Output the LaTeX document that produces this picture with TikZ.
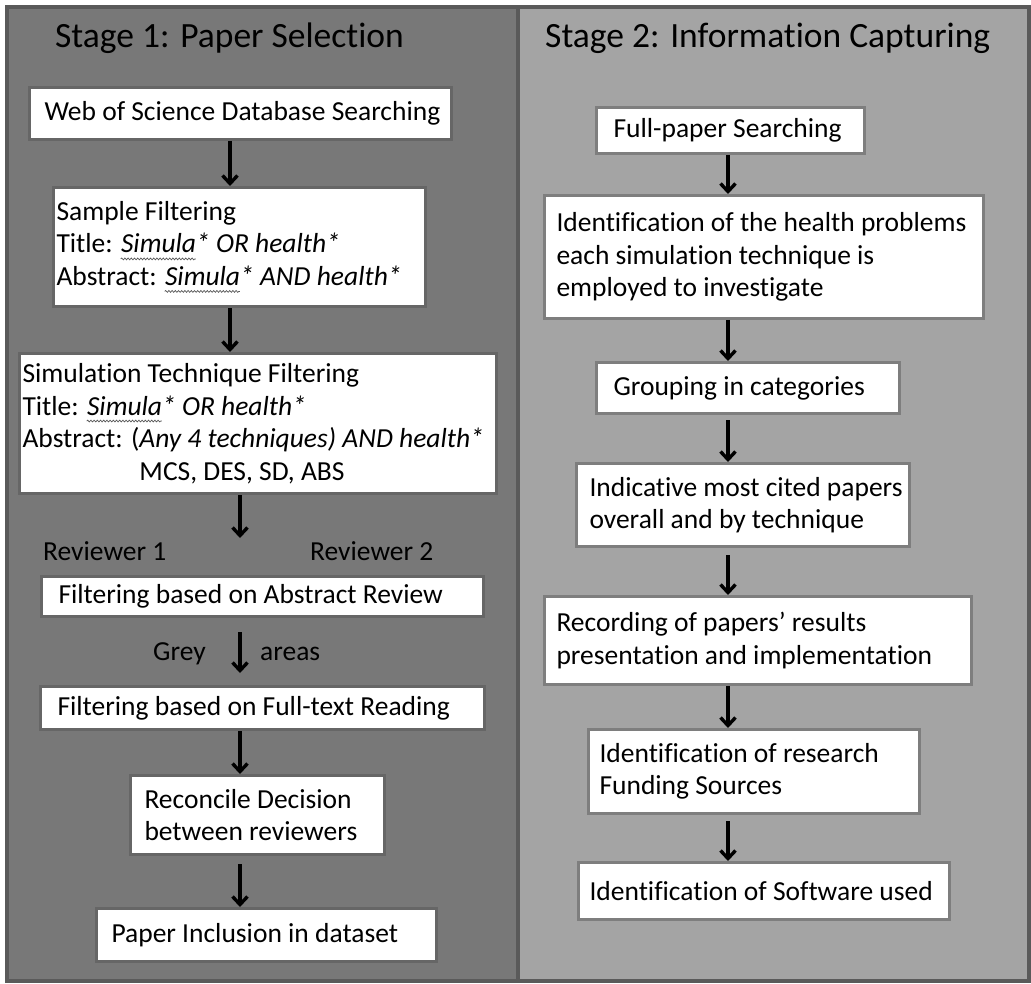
\documentclass[tikz,border=0pt]{standalone}
\usepackage{fontspec}
\setmainfont{Carlito}[Ligatures=NoCommon]
\usetikzlibrary{arrows.meta,decorations.pathmorphing}

\definecolor{darkpanel}{HTML}{787878}
\definecolor{lightpanel}{HTML}{A4A4A4}
\definecolor{panelline}{HTML}{5A5A5A}
\definecolor{leftline}{HTML}{666666}
\definecolor{rightline}{HTML}{7E7E7E}

\newcommand\stagefont{\fontsize{35.5}{42}\selectfont}
\newcommand\stepfont{\fontsize{27.5}{32.5}\selectfont}
% wavy spell-check mark under a word
\newsavebox\squigbox
\newcommand\squig[1]{\sbox\squigbox{#1}\usebox\squigbox\llap{\tikz[baseline=0pt]
    \draw[line width=0.7pt, black!65, decorate, decoration={snake, amplitude=0.9pt, segment length=3.2pt}]
    (0pt,-6pt) -- (\wd\squigbox,-6pt);}}

\begin{document}
\begin{tikzpicture}[x=1pt,y=-1pt,
    box/.style={draw=#1, line width=3pt, fill=white, anchor=north west,
                align=left, inner ysep=0pt, font=\stepfont,
                execute at begin node={\spaceskip=0pt\xspaceskip=0pt\rightskip=0pt plus 1fil minus 1000pt}},
    box/.default=leftline,
    arr/.style={-{Straight Barb[length=8pt,width=15pt]}, line width=3.4pt},
    lbl/.style={anchor=base west, inner sep=0pt, font=\stepfont}]
\useasboundingbox (0,0) rectangle (1031,984);

% the two stages
\fill[darkpanel] (7,7) rectangle (518,981);
\fill[lightpanel] (518,7) rectangle (1029,981);
\draw[panelline, line width=3.5pt] (7,7) rectangle (1029,981) (518,7) -- (518,981);

\node[anchor=base west, inner sep=0pt, font=\stagefont] (stageone) at (55,48) {Stage 1: Paper Selection};
\node[anchor=base west, inner sep=0pt, font=\stagefont] (stagetwo) at (545,48) {Stage 2: Information Capturing};

\coordinate (colA) at (230,0);
\coordinate (colB) at (240,0);
\coordinate (colC) at (728,0);

% stage 1
\node[box, text width=392pt, inner xsep=15pt, minimum height=52pt] (web) at (28,86)
    {Web of Science Database Searching};
\node[box, text width=366pt, inner xsep=3pt, minimum height=119pt] (sample) at (52,186)
    {Sample Filtering\\
     Title: \textit{\squig{Simula}* OR health*}\\
     Abstract: \textit{\squig{Simula}* AND health*}};
\node[box, text width=471pt, inner xsep=3pt, minimum height=140pt] (technique) at (18,352)
    {Simulation Technique Filtering\\
     Title: \textit{\squig{Simula}* OR health*}\\
     Abstract: (\textit{Any 4 techniques) AND health*}\\
     \hspace*{117pt}MCS, DES, SD, ABS};
\node[lbl] (revone) at (43,560) {Reviewer 1};
\node[lbl] (revtwo) at (310,560) {Reviewer 2};
\node[box, text width=408pt, inner xsep=17pt, minimum height=40pt] (abstract) at (40,575)
    {Filtering based on Abstract Review};
\node[lbl] (grey) at (153,660) {Grey};
\node[lbl] (areas) at (260,660) {areas};
\node[box, text width=410pt, inner xsep=17pt, minimum height=43pt] (fulltext) at (39,685)
    {Filtering based on Full-text Reading};
\node[box, text width=226pt, inner xsep=14pt, minimum height=79pt] (reconcile) at (129,774)
    {Reconcile Decision\\between reviewers};
\node[box, text width=310pt, inner xsep=15pt, minimum height=53pt] (inclusion) at (95,907)
    {Paper Inclusion in dataset};

\draw[arr] (web.south -| colA) -- (sample.north -| colA);
\draw[arr] (sample.south -| colA) -- (technique.north -| colA);
\draw[arr, shorten >=37pt] (technique.south -| colB) -- (abstract.north -| colB);
\draw[arr, shorten <=14pt, shorten >=12pt] (abstract.south -| colB) -- (fulltext.north -| colB);
\draw[arr] (fulltext.south -| colB) -- (reconcile.north -| colB);
\draw[arr, shorten <=8pt] (reconcile.south -| colB) -- (inclusion.north -| colB);

% stage 2
\node[box=rightline, text width=234pt, inner xsep=17pt, minimum height=46pt] (fullpaper) at (595,106)
    {Full-paper Searching};
\node[box=rightline, text width=415pt, inner xsep=12pt, minimum height=123pt] (problems) at (543,194)
    {Identification of the health problems\\each simulation technique is\\employed to investigate};
\node[box=rightline, text width=269pt, inner xsep=17pt, minimum height=51pt] (grouping) at (595,361)
    {Grouping in categories};
\node[box=rightline, text width=307pt, inner xsep=13pt, minimum height=83pt] (cited) at (575,462)
    {Indicative most cited papers\\overall and by technique};
\node[box=rightline, text width=403pt, inner xsep=12pt, minimum height=88pt] (recording) at (543,595)
    {Recording of papers’ results\\presentation and implementation};
\node[box=rightline, text width=309pt, inner xsep=11pt, minimum height=84pt] (funding) at (587,728)
    {Identification of research\\Funding Sources};
\node[box=rightline, text width=349pt, inner xsep=11pt, minimum height=57pt] (software) at (577,861)
    {Identification of Software used};

\draw[arr] (fullpaper.south -| colC) -- (problems.north -| colC);
\draw[arr] (problems.south -| colC) -- (grouping.north -| colC);
\draw[arr, shorten <=5pt] (grouping.south -| colC) -- (cited.north -| colC);
\draw[arr, shorten <=7pt] (cited.south -| colC) -- (recording.north -| colC);
\draw[arr] (recording.south -| colC) -- (funding.north -| colC);
\draw[arr, shorten <=6pt] (funding.south -| colC) -- (software.north -| colC);
\end{tikzpicture}
\end{document}
